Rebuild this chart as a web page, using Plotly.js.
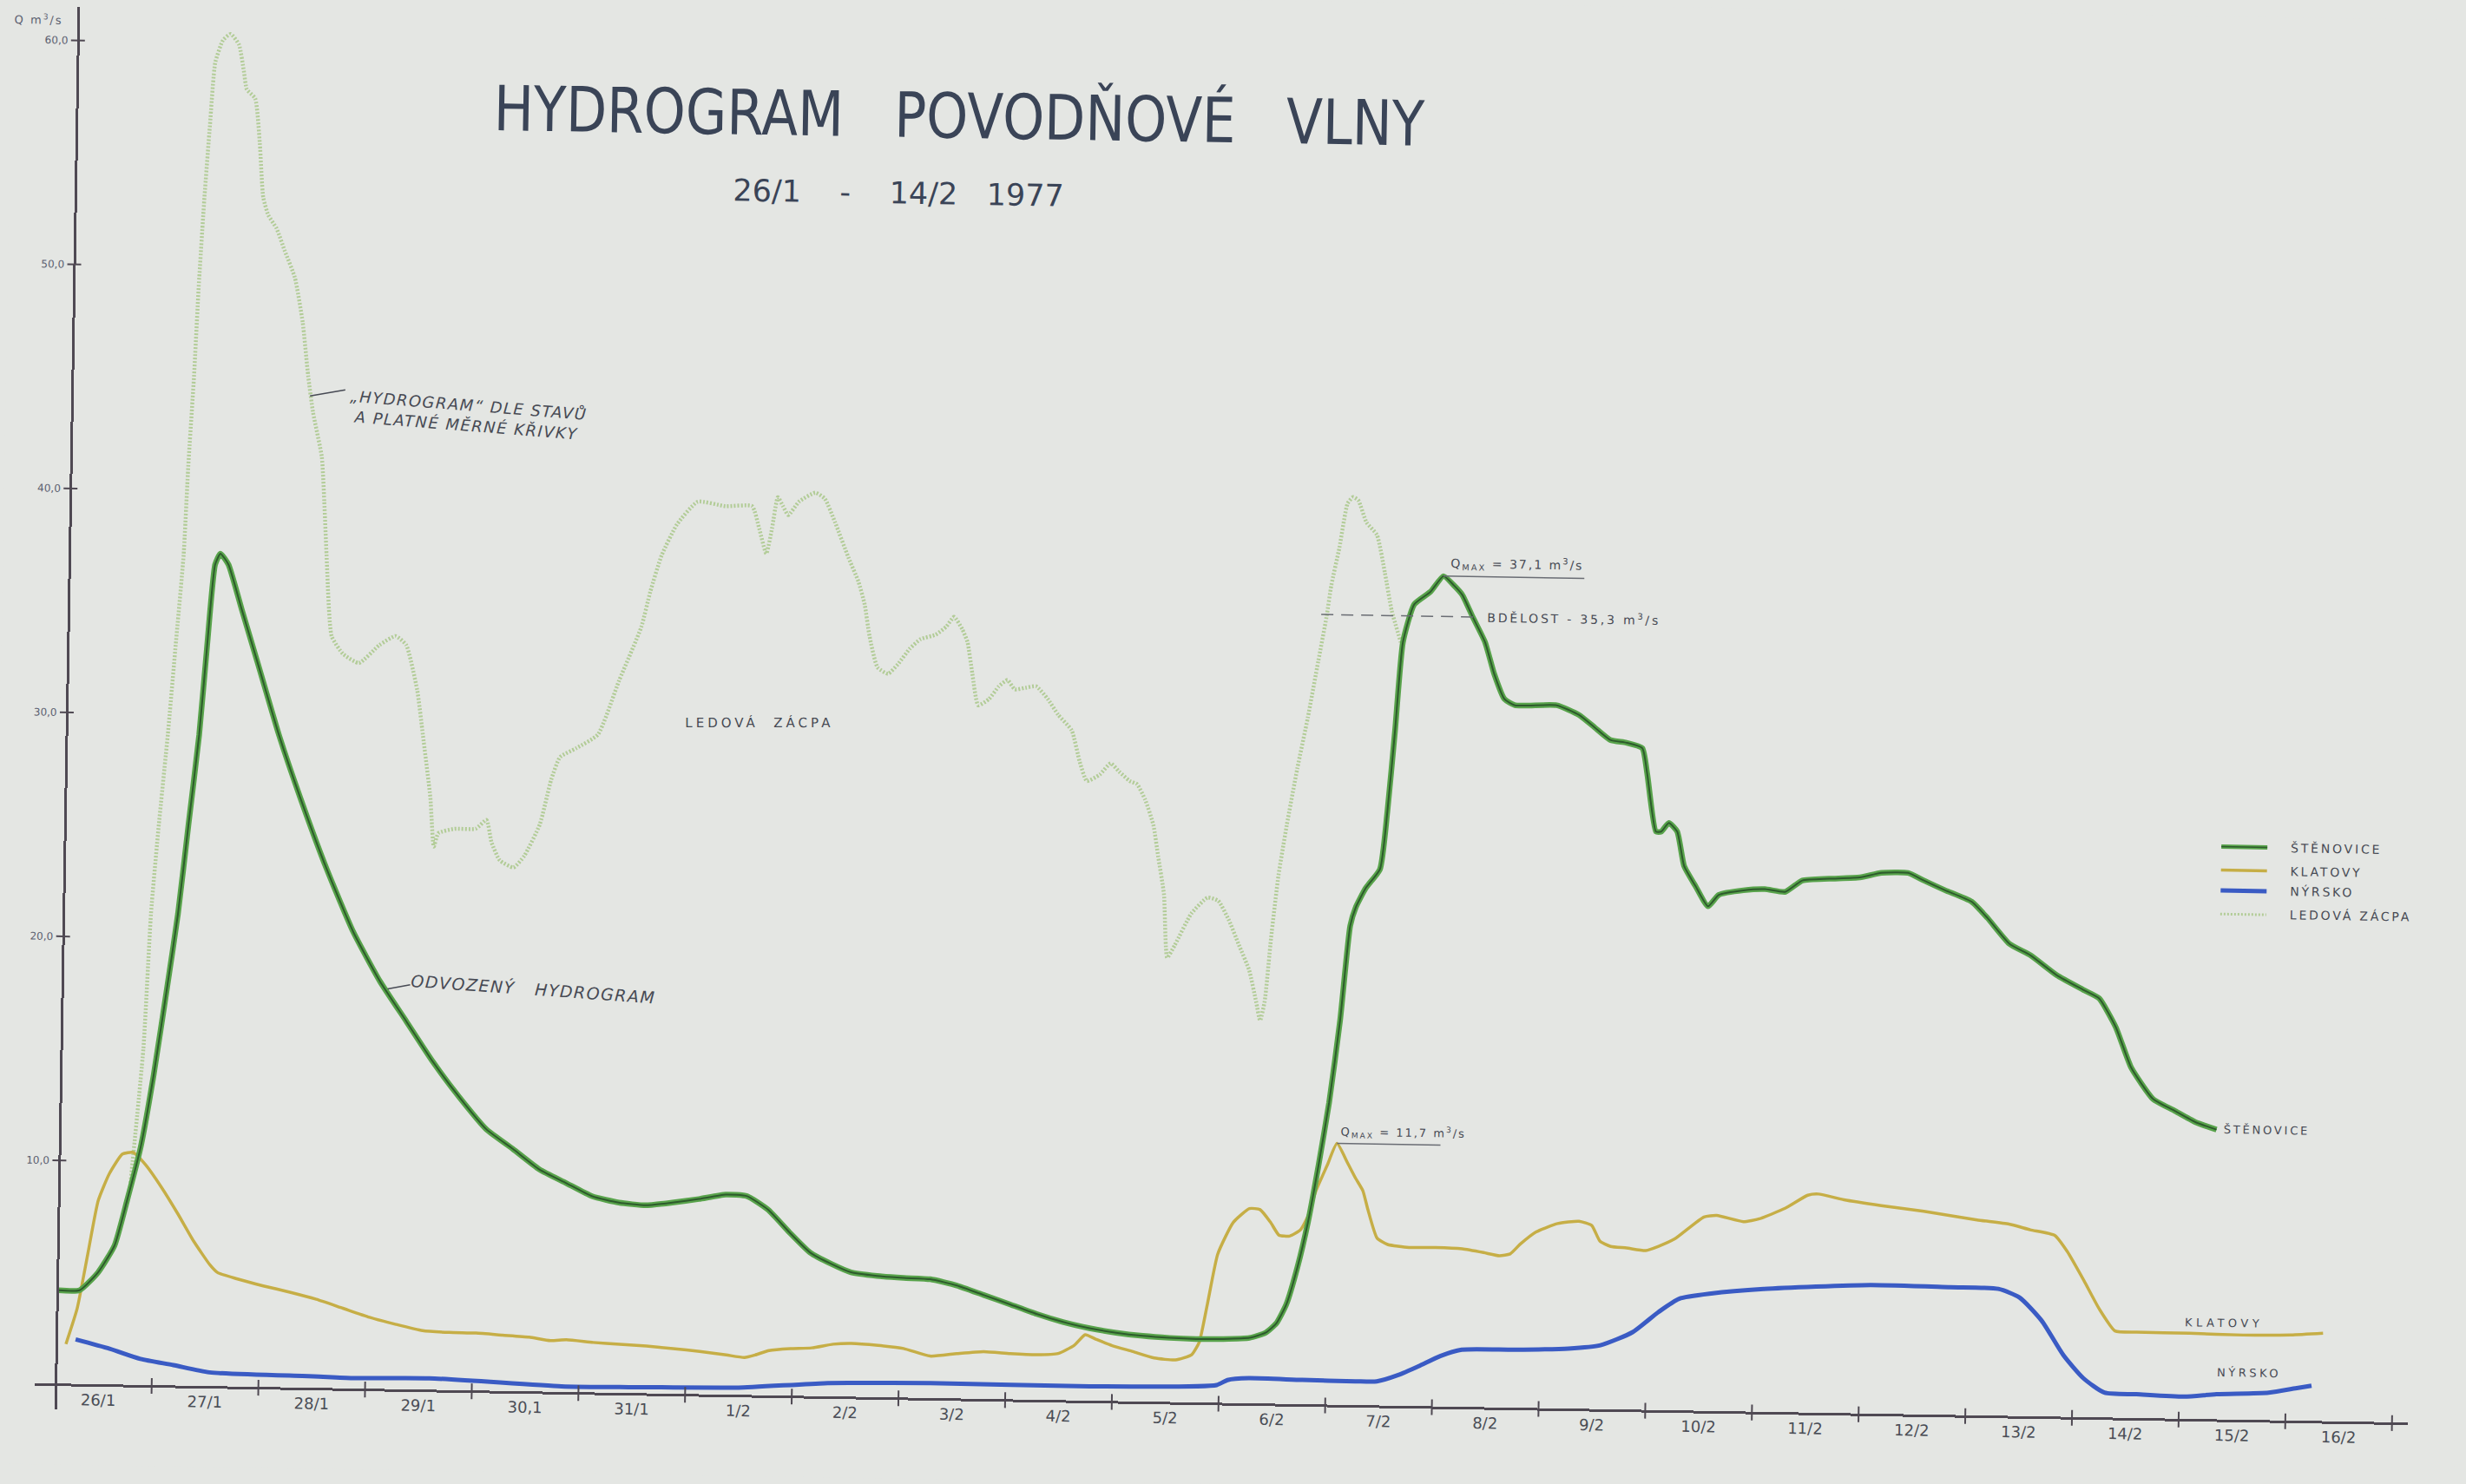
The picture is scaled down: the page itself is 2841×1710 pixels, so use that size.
<!DOCTYPE html>
<html>
<head>
<meta charset="utf-8">
<script src="https://cdn.plot.ly/plotly-3.0.1.min.js"></script>
<style>
  html, body { margin: 0; padding: 0; background: #e4e6e3; overflow: hidden; }
  /* the drawing sheet sits slightly skewed on the table */
  #sheet { width: 2841px; height: 1710px; transform: rotate(0.95deg); transform-origin: 50% 50%; }
  /* stencil lettering of the heading is narrow */
  #sheet .gtitle { transform: scaleX(0.85); transform-box: fill-box; transform-origin: 50% 50%; }
</style>
</head>
<body>
<div id="sheet"></div>
<script>
// ---- time axis: days counted from 26/1 00:00 ----
const dayLabels = ['26/1','27/1','28/1','29/1','30,1','31/1','1/2','2/2','3/2','4/2','5/2',
                   '6/2','7/2','8/2','9/2','10/2','11/2','12/2','13/2','14/2','15/2','16/2'];
const qTickVals = [10, 20, 30, 40, 50, 60];
const qTickText = ['10,0', '20,0', '30,0', '40,0', '50,0', '60,0'];

// ---- Štěnovice (derived hydrograph), Q in m3/s ----
const stenDay = [0.11,0.31,0.48,0.63,0.74,0.86,0.97,1.085,1.173,1.258,1.344,1.405,1.467,1.515,1.592,1.723,1.881,2.091,2.30,2.56,
  2.819,3.075,3.33,3.586,3.841,4.095,4.347,4.60,4.85,5.10,5.35,5.60,5.85,6.10,6.35,6.55,6.75,6.95,7.15,7.35,
  7.53,7.78,8.03,8.28,8.53,8.78,9.03,9.28,9.53,9.78,10.03,10.28,10.53,10.78,11.03,11.28,11.43,11.53,11.62,11.72,
  11.81,11.90,11.99,12.08,12.16,12.21,12.30,12.43,12.49,12.55,12.61,12.71,12.86,12.98,13.08,13.16,13.26,13.38,13.47,13.57,
  13.67,14.06,14.27,14.42,14.57,14.72,14.87,14.92,15.01,15.06,15.13,15.21,15.28,15.39,15.51,15.61,15.84,16.04,16.23,16.39,
  16.64,16.93,17.13,17.38,17.53,17.73,17.98,18.13,18.34,18.54,18.79,19.04,19.19,19.35,19.50,19.71,19.91,20.11,20.31];
const stenQ = [4.20,4.22,5.03,6.24,8.25,10.66,13.87,17.88,21.09,25.09,29.10,33.11,36.71,37.20,36.72,34.73,32.35,29.16,26.38,23.20,
  20.41,18.24,16.46,14.67,13.10,11.71,10.85,9.95,9.37,8.79,8.53,8.43,8.57,8.75,8.97,8.91,8.32,7.34,6.44,5.95,
  5.60,5.45,5.38,5.34,5.08,4.68,4.28,3.87,3.53,3.27,3.09,2.97,2.90,2.87,2.89,2.96,3.20,3.63,4.48,6.18,
  8.16,10.70,13.52,17.19,21.42,22.26,23.12,23.97,26.51,30.18,34.12,35.82,36.39,37.10,36.69,36.27,35.30,34.18,32.78,31.66,
  31.39,31.42,31.01,30.46,29.91,29.80,29.57,28.42,25.86,25.86,26.25,25.87,24.34,23.45,22.56,23.08,23.30,23.37,23.26,23.78,
  23.88,23.96,24.18,24.20,23.87,23.45,22.96,22.25,21.11,20.61,19.74,19.11,18.74,17.47,15.68,14.29,13.79,13.29,12.97];

// ---- Klatovy ----
const klatDay = [0.19,0.29,0.38,0.47,0.57,0.69,0.79,0.91,1.06,1.22,1.37,1.53,1.60,1.78,2.03,2.28,2.53,2.78,3.03,3.28,
  3.53,3.78,4.03,4.28,4.53,4.73,4.88,5.13,5.38,5.63,5.88,6.13,6.38,6.55,6.65,6.78,6.98,7.18,7.38,7.55,
  7.80,8.04,8.29,8.54,8.79,9.04,9.29,9.49,9.64,9.74,9.84,9.99,10.19,10.39,10.59,10.74,10.81,10.88,10.97,11.11,
  11.26,11.36,11.46,11.54,11.64,11.74,11.81,11.88,11.98,12.07,12.17,12.25,12.32,12.37,12.46,12.56,12.76,13.01,13.26,13.46,
  13.61,13.71,13.80,13.95,14.15,14.35,14.47,14.55,14.65,14.80,14.98,15.10,15.25,15.52,15.64,15.89,16.04,16.28,16.49,16.59,
  16.83,17.18,17.58,18.08,18.38,18.58,18.81,18.93,19.09,19.24,19.39,19.59,20.09,20.59,21.04,21.34];
const klatQ = [1.81,3.41,5.82,8.23,9.44,10.33,10.41,9.86,8.88,7.69,6.50,5.43,5.11,4.85,4.55,4.29,3.99,3.61,3.23,2.93,
  2.67,2.61,2.60,2.53,2.46,2.32,2.37,2.27,2.21,2.15,2.05,1.95,1.81,1.71,1.83,2.04,2.14,2.19,2.37,2.42,
  2.35,2.23,1.91,2.04,2.15,2.08,2.05,2.12,2.50,2.98,2.79,2.52,2.26,1.99,1.92,2.16,2.73,4.42,6.68,8.10,
  8.73,8.69,8.13,7.57,7.53,7.81,8.44,9.57,10.70,11.70,10.86,10.16,9.61,8.77,7.51,7.23,7.11,7.13,7.09,6.94,
  6.81,6.90,7.33,7.90,8.29,8.41,8.23,7.53,7.31,7.25,7.15,7.35,7.69,8.69,8.77,8.51,8.65,9.14,9.74,9.80,
  9.56,9.33,9.11,8.76,8.60,8.36,8.13,7.42,6.14,4.87,3.91,3.87,3.86,3.82,3.86,3.96];

// ---- Nýrsko ----
const nyrDay = [0.28,0.60,0.89,1.20,1.54,2.52,2.88,3.60,4.84,5.47,6.33,6.50,7.30,7.53,8.30,9.79,10.98,11.08,11.28,11.78,
  12.28,12.48,12.68,12.87,13.07,13.27,13.77,14.27,14.57,14.87,15.11,15.30,15.60,16.09,17.09,17.84,18.29,18.49,18.70,18.91,
  19.10,19.30,19.60,20.05,20.35,20.84,21.09,21.24];
const nyrQ = [2.02,1.63,1.20,0.95,0.65,0.55,0.50,0.55,0.29,0.30,0.35,0.36,0.62,0.65,0.70,0.68,0.83,1.06,1.16,1.12,
  1.10,1.11,1.41,1.82,2.29,2.59,2.63,2.72,2.89,3.50,4.42,5.02,5.28,5.52,5.78,5.74,5.70,5.33,4.32,2.79,
  1.78,1.15,1.10,1.03,1.16,1.27,1.48,1.61];

// ---- "hydrograph" from stages and the valid rating curve (ice jam) ----
const iceDay = [0.77,0.87,0.92,0.98,1.05,1.11,1.17,1.20,1.24,1.27,1.31,1.35,1.39,1.46,1.53,1.61,1.66,1.69,1.77,1.82,
  1.86,1.91,1.99,2.07,2.17,2.25,2.31,2.36,2.45,2.48,2.51,2.57,2.68,2.83,3.02,3.17,3.27,3.38,3.44,3.52,
  3.56,3.60,3.75,3.95,4.05,4.10,4.18,4.31,4.41,4.55,4.65,4.73,4.88,5.08,5.27,5.47,5.55,5.65,5.79,5.98,
  6.24,6.49,6.56,6.63,6.68,6.73,6.78,6.83,6.93,7.08,7.17,7.27,7.40,7.50,7.56,7.61,7.69,7.79,7.88,7.99,
  8.09,8.23,8.33,8.40,8.48,8.53,8.58,8.64,8.74,8.83,8.91,8.98,9.08,9.18,9.29,9.39,9.52,9.60,9.67,9.79,
  9.89,9.97,10.07,10.14,10.22,10.30,10.35,10.41,10.45,10.52,10.67,10.82,10.92,11.02,11.12,11.22,11.29,11.33,11.37,11.42,
  11.48,11.55,11.64,11.73,11.82,11.89,11.93,12.00,12.07,12.12,12.17,12.25,12.35,12.43,12.50,12.59];
const iceQ = [9.05,15.06,21.07,25.07,29.08,33.09,37.09,41.09,45.10,49.10,53.11,56.31,59.11,60.12,60.40,59.93,58.74,57.94,57.54,55.55,
  53.15,52.35,51.76,50.77,49.57,47.58,45.18,43.59,41.59,39.60,37.20,33.60,32.81,32.42,33.24,33.65,33.26,31.26,29.27,26.47,
  24.28,24.88,25.09,25.11,25.51,24.52,23.72,23.41,23.94,25.35,27.36,28.37,28.78,29.40,31.82,34.23,35.83,37.45,38.85,39.87,
  39.69,39.71,38.72,37.60,38.73,40.13,39.73,39.34,39.95,40.36,40.10,39.05,37.50,36.40,35.41,34.01,32.61,32.33,32.76,33.47,
  33.90,34.11,34.49,34.92,34.36,33.80,32.39,30.99,31.28,31.85,32.14,31.73,31.81,31.88,31.33,30.63,29.94,28.54,27.69,27.99,
  28.50,28.14,27.73,27.59,26.89,25.78,24.37,22.69,19.87,20.44,21.86,22.58,22.44,21.61,20.49,19.37,17.97,17.13,17.98,20.80,
  23.62,25.87,28.41,30.67,33.22,35.19,36.60,38.29,40.27,40.56,40.42,39.44,38.89,37.21,35.52,34.12];

// ---- stated values ----
const qmaxSten = 37.1;
const qmaxKlat = 11.7;
const alertLevel = 35.3;

// ---- styles ----
const PAPER = '#e4e6e3';
const INK = '#474a54';
const AXIS = '#4f4953';
const LETTERING = '"DejaVu Sans", sans-serif';
const HAND = '"DejaVu Sans", sans-serif';
const C_STEN = '#58a34b', C_STEN_CORE = '#2d5a2c', C_KLAT = '#c6ae46', C_NYR = '#3a5bc4', C_ICE = '#b2cc97';

// sheet geometry (px): margins of the plotting area
const W = 2841, H = 1710, ML = 52, MR = 54, MT = 29.5, MB = 63.6;
const X0 = -0.1, X1 = 22.15, Y0 = -1.1, Y1 = 61.5;
const fx = px => (px - ML) / (W - ML - MR);
const fy = py => 1 - (py - MT) / (H - MT - MB);
// lettering-guide text is widely spaced
const spaced = (t, ls) => '<span style="letter-spacing:' + ls + 'px">' + t + '</span>';
const comma = v => v.toFixed(1).replace('.', ',');
const NB3 = '\u00a0\u00a0\u00a0';

const traces = [
  {x: iceDay, y: iceQ, mode: 'lines', name: 'LEDOVÁ ZÁCPA', hoverinfo: 'skip',
   line: {color: C_ICE, width: 4.5, dash: '2px,2px', shape: 'spline', smoothing: 0.5}},
  {x: nyrDay, y: nyrQ, mode: 'lines', name: 'NÝRSKO', hoverinfo: 'skip',
   line: {color: C_NYR, width: 5, shape: 'spline', smoothing: 0.6}},
  {x: klatDay, y: klatQ, mode: 'lines', name: 'KLATOVY', hoverinfo: 'skip',
   line: {color: C_KLAT, width: 3.5, shape: 'spline', smoothing: 0.5}},
  {x: stenDay, y: stenQ, mode: 'lines', name: 'ŠTĚNOVICE', hoverinfo: 'skip',
   line: {color: C_STEN, width: 6.5, shape: 'spline', smoothing: 0.5}},
  {x: stenDay, y: stenQ, mode: 'lines', name: 'ŠTĚNOVICE', hoverinfo: 'skip',
   line: {color: C_STEN_CORE, width: 2, shape: 'spline', smoothing: 0.5}}
];

const shapes = [];
// crossing tick marks at day boundaries
for (let i = 1; i <= dayLabels.length; i++) {
  shapes.push({type: 'line', xref: 'x', yref: 'y', x0: i, x1: i, y0: -0.35, y1: 0.35,
               line: {color: AXIS, width: 2}});
}
// crossing tick marks on the discharge axis
qTickVals.forEach(v => shapes.push({type: 'line', xref: 'x', yref: 'y', x0: 0.035, x1: 0.165, y0: v, y1: v,
                                    line: {color: AXIS, width: 2}}));
// Qmax underlines and alert level
shapes.push({type: 'line', xref: 'x', yref: 'y', x0: 12.98, x1: 14.3, y0: qmaxSten, y1: qmaxSten,
             line: {color: '#6a6d74', width: 1.5}});
shapes.push({type: 'line', xref: 'x', yref: 'y', x0: 12.07, x1: 13.04, y0: qmaxKlat, y1: qmaxKlat,
             line: {color: '#6a6d74', width: 1.5}});
shapes.push({type: 'line', xref: 'x', yref: 'y', x0: 11.84, x1: 13.31, y0: alertLevel, y1: alertLevel,
             line: {color: '#6a6d74', width: 1.5, dash: '14px,9px'}});
// leader lines of the hand notes
shapes.push({type: 'line', xref: 'x', yref: 'y', x0: 2.33, x1: 2.66, y0: 44.3, y1: 44.6,
             line: {color: INK, width: 1.5}});
shapes.push({type: 'line', xref: 'x', yref: 'y', x0: 3.15, x1: 3.36, y0: 17.9, y1: 18.1,
             line: {color: INK, width: 1.5}});

// key on the right
const keyNames = ['ŠTĚNOVICE', 'KLATOVY', 'NÝRSKO', 'LEDOVÁ ZÁCPA'];
const keyRowsPx = [956.7, 983.7, 1007.2, 1034.4];
const keyLines = [
  [{color: C_STEN, width: 5}, {color: C_STEN_CORE, width: 1.5}],
  [{color: C_KLAT, width: 3.5}],
  [{color: C_NYR, width: 5}],
  [{color: C_ICE, width: 3, dash: '2px,2px'}]
];
keyRowsPx.forEach((py, i) => keyLines[i].forEach(ln =>
  shapes.push({type: 'line', xref: 'paper', yref: 'paper', x0: fx(2561), x1: fx(2614), y0: fy(py), y1: fy(py), line: ln})));

const small = (size) => ({family: LETTERING, size: size, color: INK});
const annotations = [
  {xref: 'paper', yref: 'paper', x: fx(1024), y: fy(229), xanchor: 'center', yanchor: 'middle', showarrow: false,
   text: '26/1\u00a0\u00a0\u00a0\u00a0-\u00a0\u00a0\u00a0\u00a014/2\u00a0\u00a0\u00a01977',
   font: {family: LETTERING, size: 35, color: '#3a4457'}},
  {xref: 'paper', yref: 'paper', x: fx(31), y: fy(45), xanchor: 'center', yanchor: 'middle', showarrow: false,
   text: spaced('Q m<sup>3</sup>/s', 2), font: {family: LETTERING, size: 13, color: '#5b6070'}},
  {xref: 'x', yref: 'y', x: 3.817, y: 43.57, showarrow: false, textangle: 3.5, align: 'left',
   text: spaced('\u201EHYDROGRAM\u201C DLE STAVŮ<br>\u00a0A PLATNÉ MĚRNÉ KŘIVKY', 1.5),
   font: {family: HAND, size: 18, color: INK, style: 'italic'}},
  {xref: 'x', yref: 'y', x: 4.517, y: 17.99, showarrow: false, textangle: 3,
   text: spaced('ODVOZENÝ' + NB3 + 'HYDROGRAM', 1.5), font: {family: HAND, size: 19, color: INK, style: 'italic'}},
  {xref: 'x', yref: 'y', x: 6.59, y: 30.08, showarrow: false, textangle: -1,
   text: spaced('LEDOVÁ\u00a0\u00a0ZÁCPA', 4), font: small(15)},
  {xref: 'x', yref: 'y', x: 13.03, y: qmaxSten, yanchor: 'bottom', xanchor: 'left', yshift: 3, showarrow: false,
   text: spaced('Q<sub>MAX</sub> = ' + comma(qmaxSten) + ' m<sup>3</sup>/s', 2), font: small(14)},
  {xref: 'x', yref: 'y', x: 12.09, y: qmaxKlat, yanchor: 'bottom', xanchor: 'left', yshift: 3, showarrow: false,
   text: spaced('Q<sub>MAX</sub> = ' + comma(qmaxKlat) + ' m<sup>3</sup>/s', 2), font: small(13)},
  {xref: 'x', yref: 'y', x: 13.38, y: alertLevel, xanchor: 'left', yanchor: 'middle', showarrow: false,
   text: spaced('BDĚLOST - ' + comma(alertLevel) + ' m<sup>3</sup>/s', 2.8), font: small(14)},
  {xref: 'x', yref: 'y', x: 20.36, y: stenQ[stenQ.length - 1], xanchor: 'left', showarrow: false,
   text: spaced('ŠTĚNOVICE', 2.8), font: small(13)},
  {xref: 'x', yref: 'y', x: 20.41, y: 4.34, showarrow: false, text: spaced('KLATOVY', 4.5), font: small(13)},
  {xref: 'x', yref: 'y', x: 20.65, y: 2.15, showarrow: false, text: spaced('NÝRSKO', 3.5), font: small(13)}
];
keyRowsPx.forEach((py, i) => annotations.push({xref: 'paper', yref: 'paper', x: fx(2639), y: fy(py),
  xanchor: 'left', yanchor: 'middle', showarrow: false, text: spaced(keyNames[i], 2.8), font: small(14)}));

const layout = {
  width: W, height: H,
  margin: {l: ML, r: MR, t: MT, b: MB},
  paper_bgcolor: PAPER, plot_bgcolor: PAPER,
  showlegend: false,
  title: {text: 'HYDROGRAM' + NB3 + 'POVODŇOVÉ' + NB3 + 'VLNY', xref: 'container', yref: 'container',
          x: 1093 / W, xanchor: 'center', y: 1 - 139 / H, yanchor: 'middle',
          font: {family: LETTERING, size: 72, color: '#3a4457'}},
  xaxis: {range: [X0, X1], anchor: 'free', position: (0 - Y0) / (Y1 - Y0),
          showline: true, linecolor: AXIS, linewidth: 3, showgrid: false, zeroline: false,
          tickmode: 'array', tickvals: dayLabels.map((_, i) => i + 0.5), ticktext: dayLabels,
          ticks: '', tickfont: {family: LETTERING, size: 18, color: '#4a4d56'}},
  yaxis: {range: [Y0, Y1], anchor: 'free', position: (0.1 - X0) / (X1 - X0),
          showline: true, linecolor: AXIS, linewidth: 3, showgrid: false, zeroline: false,
          tickmode: 'array', tickvals: qTickVals, ticktext: qTickText, ticks: '',
          ticklabelstandoff: 8, tickfont: {family: LETTERING, size: 12, color: '#5b6070'}},
  shapes: shapes,
  annotations: annotations
};

Plotly.newPlot('sheet', traces, layout, {displayModeBar: false, staticPlot: true});
</script>
</body>
</html>
